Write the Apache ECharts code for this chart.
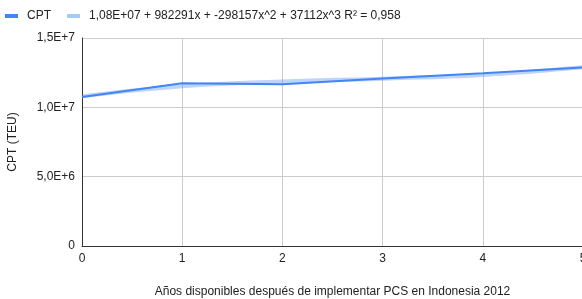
<!DOCTYPE html>
<html>
<head>
<meta charset="utf-8">
<script src="https://cdn.jsdelivr.net/npm/echarts@6/dist/echarts.min.js"></script>
<style>
  html, body { margin: 0; padding: 0; background: #fff; }
  #chart { width: 582px; height: 299px; }
</style>
</head>
<body>
<div id="chart"></div>
<script>
const years = [0, 1, 2, 3, 4, 5]
const cptValues = [10750000, 11740000, 11670000, 12080000, 12460000, 12880000]
// trendline
const trendValues = [10800000, 11520000, 11870000, 12070000, 12330000, 12900000]
const trendName = '1,08E+07 + 982291x + -298157x^2 + 37112x^3 R² = 0,958'

const yLabels = { 0: '0', 5000000: '5,0E+6', 10000000: '1,0E+7', 15000000: '1,5E+7' }

const chart = echarts.init(document.getElementById('chart'))
const font = 'Liberation Sans, Arial, sans-serif'

chart.setOption({
  animation: false,
  textStyle: { fontFamily: font },
  legend: {
    left: 0,
    top: 5,
    itemWidth: 13,
    itemHeight: 4,
    itemGap: 16,
    icon: 'rect',
    textStyle: { fontSize: 12, color: '#222', fontFamily: font, padding: [0, 0, 0, 4] },
    data: ['CPT', trendName],
  },
  grid: { left: 82, right: -1, top: 38, bottom: 53, outerBoundsMode: 'none', containLabel: false },
  xAxis: {
    type: 'value',
    min: 0,
    max: 5,
    interval: 1,
    name: 'Años disponibles después de implementar PCS en Indonesia 2012',
    nameLocation: 'middle',
    nameGap: 40,
    nameTextStyle: { fontSize: 12, color: '#222' },
    axisLine: { lineStyle: { color: '#333', width: 1 } },
    axisTick: { show: false },
    axisLabel: { fontSize: 12, color: '#222', margin: 7 },
    splitLine: { lineStyle: { color: '#ccc' } },
  },
  yAxis: {
    type: 'value',
    min: 0,
    max: 15000000,
    interval: 5000000,
    name: 'CPT (TEU)',
    nameLocation: 'middle',
    nameGap: 63,
    nameTextStyle: { fontSize: 12, color: '#222' },
    axisLine: { show: true, lineStyle: { color: '#333', width: 1 } },
    axisTick: { show: false },
    axisLabel: { fontSize: 12, color: '#222', margin: 7, formatter: (v) => yLabels[v] },
    splitLine: { lineStyle: { color: '#ccc' } },
  },
  series: [
    {
      name: trendName,
      type: 'line',
      smooth: true,
      symbol: 'none',
      data: years.map((x, i) => [x, trendValues[i]]),
      itemStyle: { color: '#a8c7fa' },
      lineStyle: { color: '#4285f4', opacity: 0.35, width: 4 },
      z: 1,
    },
    {
      name: 'CPT',
      type: 'line',
      symbol: 'none',
      data: years.map((x, i) => [x, cptValues[i]]),
      itemStyle: { color: '#4285f4' },
      lineStyle: { color: '#4285f4', width: 2 },
      z: 2,
    },
  ],
})
</script>
</body>
</html>
